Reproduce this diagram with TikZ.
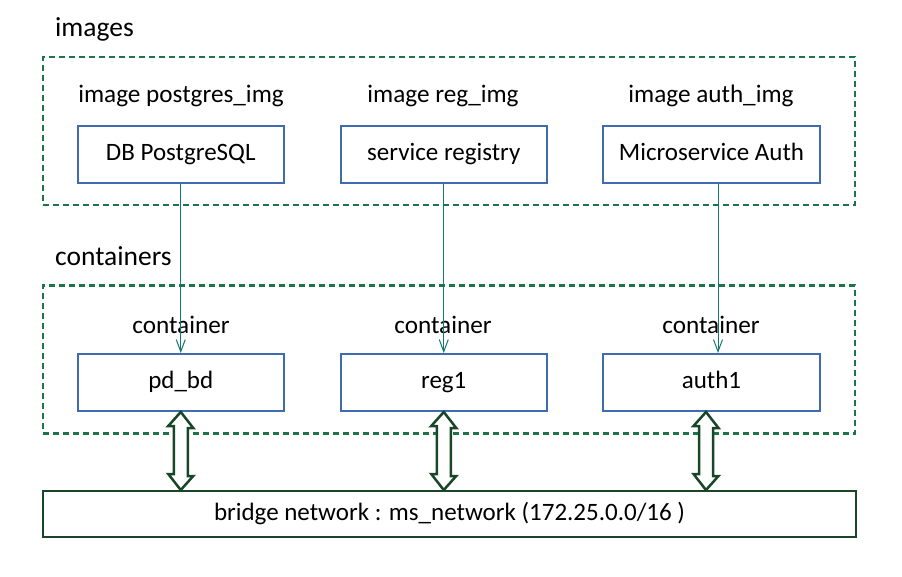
\documentclass[tikz,border=0pt]{standalone}
\usepackage{fontspec}
\setmainfont{Carlito}
\usetikzlibrary{arrows.meta}
\definecolor{boxblue}{RGB}{62,107,178}
\definecolor{dashgreen}{RGB}{30,115,75}
\definecolor{netgreen}{RGB}{25,70,40}
\definecolor{linkteal}{RGB}{20,120,110}
\begin{document}
\begin{tikzpicture}[x=1pt,y=-1pt,
  title/.style={anchor=base west, inner sep=0pt, font=\fontsize{27.5}{32}\selectfont},
  caption/.style={anchor=base, inner sep=0pt, font=\fontsize{25.2}{30}\selectfont},
  bluebox/.style={draw=boxblue, line width=2pt, minimum height=57pt, inner sep=0pt,
    text height=17pt, text depth=5pt, font=\fontsize{25}{30}\selectfont},
  dashbox/.style={draw=dashgreen, line width=2.5pt, dash pattern=on 6pt off 4pt,
    minimum width=812pt, minimum height=148pt, inner sep=0pt},
  netbox/.style={draw=netgreen, line width=2pt, minimum width=813pt, minimum height=46pt,
    inner sep=0pt, text height=17pt, text depth=5pt, font=\fontsize{25}{30}\selectfont},
  link/.style={draw=linkteal, line width=1pt, -{Straight Barb[length=12pt,width=9pt]}},
  dblarrow/.style={draw=netgreen, line width=2.5pt, fill=white, line join=miter}
]
\useasboundingbox (0,0) rectangle (902,577);

% group frames
\node[dashbox] (imgs) at (449,131) {};
\node[dashbox] (conts) at (449,359.5) {};
\node[title] (imgstitle) at (55,37) {images};
\node[title] (contstitle) at (55,266) {containers};

% image captions
\node[caption] (cap1) at (181,103) {image postgres\_img};
\node[caption] (cap2) at (443,103) {image reg\_img};
\node[caption] (cap3) at (711,103) {image auth\_img};

% image boxes
\node[bluebox, minimum width=206.5pt] (dbimg) at (180.75,154.5) {DB PostgreSQL};
\node[bluebox, minimum width=206.5pt] (regimg) at (443.75,154.5) {service registry};
\node[bluebox, minimum width=217pt] (authimg) at (711.5,154.5) {Microservice Auth};

% container captions
\node[caption] (ccap1) at (181,333) {container};
\node[caption] (ccap2) at (443,333) {container};
\node[caption] (ccap3) at (711,333) {container};

% container boxes
\node[bluebox, minimum width=206.5pt] (pd) at (180.75,382.5) {pd\_bd};
\node[bluebox, minimum width=206.5pt] (reg) at (443.75,382.5) {reg1};
\node[bluebox, minimum width=217pt] (auth) at (711.5,382.5) {auth1};

% network
\node[netbox] (bridge) at (449.5,514) {bridge network : ms\_network (172.25.0.0/16 )};

% image -> container links
\draw[link] (dbimg.south) -- (pd.north);
\draw[link] (regimg.south) -- (reg.north);
\draw[link] ([xshift=6.5pt]authimg.south) -- ([xshift=6.5pt]auth.north);

% double arrows to network
\coordinate (a1) at (pd.south);
\coordinate (a2) at (reg.south);
\coordinate (a3) at ([xshift=-5.5pt]auth.south);
\foreach \a in {a1,a2,a3}{
  \draw[dblarrow] (\a) -- ++(12.5,16) -- ++(-5.5,0) -- ++(0,48) -- ++(5.5,0)
    -- (\a |- bridge.north) -- ++(-12.5,-16) -- ++(5.5,0) -- ++(0,-48) -- ++(-5.5,0) -- cycle;
}
\end{tikzpicture}
\end{document}
